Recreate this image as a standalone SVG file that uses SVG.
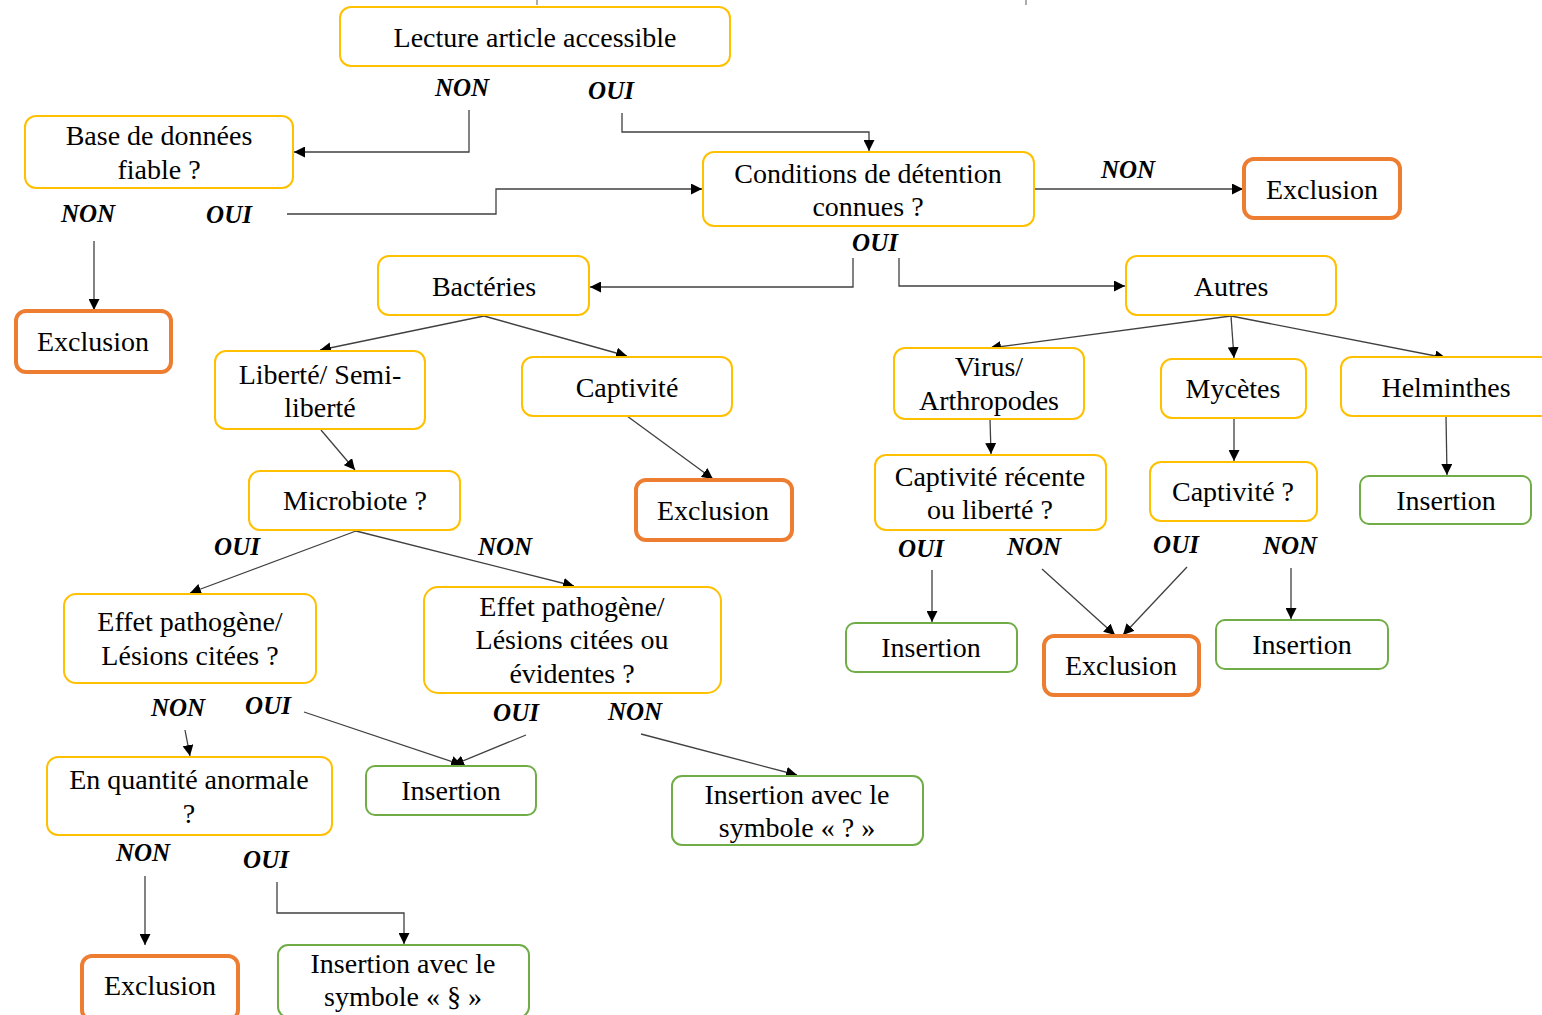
<svg xmlns="http://www.w3.org/2000/svg" width="1542" height="1015" viewBox="0 0 1542 1015">
<defs>
<marker id="ah" viewBox="0 0 10 10" refX="10" refY="5" markerWidth="11" markerHeight="11" markerUnits="userSpaceOnUse" orient="auto">
<path d="M0,0 L10,5 L0,10 Z" fill="#000"/>
</marker>
<style>
.y{fill:#fff;stroke:#FFC000;stroke-width:2}
.o{fill:#fff;stroke:#ED7D31;stroke-width:4}
.g{fill:#fff;stroke:#70AD47;stroke-width:2}
.t{font-family:"Liberation Serif","Times New Roman",serif;font-size:28px;fill:#000;text-anchor:middle}
.l{font-family:"Liberation Serif","Times New Roman",serif;font-size:25px;font-weight:bold;font-style:italic;fill:#000;text-anchor:middle}
.c{fill:none;stroke:#404040;stroke-width:1.3;marker-end:url(#ah)}
.m{fill:none;stroke:#808080;stroke-width:1.3}
</style>
</defs>
<rect width="1542" height="1015" fill="#fff"/>
<g id="connectors">
<line class="m" x1="537" y1="0" x2="537" y2="5"/>
<line class="m" x1="1026" y1="0" x2="1026" y2="5"/>
<polyline class="c" points="469,110 469,152 294,152"/>
<polyline class="c" points="622,113 622,132 869,132 869,151"/>
<polyline class="c" points="287,214 496,214 496,189 702,189"/>
<polyline class="c" points="94,241 94,310"/>
<polyline class="c" points="1034,189 1243,189"/>
<polyline class="c" points="853,258 853,287 590,287"/>
<polyline class="c" points="899,258 899,286 1125,286"/>
<polyline class="c" points="484,316 320,350"/>
<polyline class="c" points="484,316 627,356"/>
<polyline class="c" points="321,430 355,470"/>
<polyline class="c" points="627,416 713,479"/>
<polyline class="c" points="356,531 190,593"/>
<polyline class="c" points="356,531 574,586"/>
<polyline class="c" points="304,712 462,765"/>
<polyline class="c" points="526,735 453,765"/>
<polyline class="c" points="185,730 190,756"/>
<polyline class="c" points="641,734 797,775"/>
<polyline class="c" points="145,876 145,945"/>
<polyline class="c" points="277,882 277,913 404,913 404,944"/>
<polyline class="c" points="1231,316 990,348"/>
<polyline class="c" points="1231,316 1234,358"/>
<polyline class="c" points="1231,316 1446,358"/>
<polyline class="c" points="990,419 991,454"/>
<polyline class="c" points="1234,418 1234,461"/>
<polyline class="c" points="1446,416 1447,475"/>
<polyline class="c" points="932,570 932,622"/>
<polyline class="c" points="1042,569 1115,635"/>
<polyline class="c" points="1187,567 1123,635"/>
<polyline class="c" points="1291,568 1291,619"/>
</g>
<g id="labels">
<text class="l" x="462" y="96">NON</text>
<text class="l" x="611" y="99">OUI</text>
<text class="l" x="88" y="222">NON</text>
<text class="l" x="229" y="223">OUI</text>
<text class="l" x="1128" y="178">NON</text>
<text class="l" x="875" y="251">OUI</text>
<text class="l" x="237" y="555">OUI</text>
<text class="l" x="505" y="555">NON</text>
<text class="l" x="178" y="716">NON</text>
<text class="l" x="268" y="714">OUI</text>
<text class="l" x="516" y="721">OUI</text>
<text class="l" x="635" y="720">NON</text>
<text class="l" x="143" y="861">NON</text>
<text class="l" x="266" y="868">OUI</text>
<text class="l" x="921" y="557">OUI</text>
<text class="l" x="1034" y="555">NON</text>
<text class="l" x="1176" y="553">OUI</text>
<text class="l" x="1290" y="554">NON</text>
</g>
<g id="n1"><rect class="y" x="340" y="7" width="390" height="59" rx="11"/><text class="t" x="535" y="47">Lecture article accessible</text></g>
<g id="n2"><rect class="y" x="25" y="116" width="268" height="72" rx="11"/><text class="t" x="159" y="145">Base de données</text><text class="t" x="159" y="179">fiable ?</text></g>
<g id="n3"><rect class="y" x="703" y="152" width="331" height="74" rx="11"/><text class="t" x="868" y="183">Conditions de détention</text><text class="t" x="868" y="216">connues ?</text></g>
<g id="n4"><rect class="o" x="1244" y="159" width="156" height="59" rx="10"/><text class="t" x="1322" y="199">Exclusion</text></g>
<g id="n5"><rect class="o" x="16" y="311" width="155" height="61" rx="10"/><text class="t" x="93" y="351">Exclusion</text></g>
<g id="n6"><rect class="y" x="378" y="256" width="211" height="59" rx="11"/><text class="t" x="484" y="296">Bactéries</text></g>
<g id="n7"><rect class="y" x="1126" y="256" width="210" height="59" rx="11"/><text class="t" x="1231" y="296">Autres</text></g>
<g id="n8"><rect class="y" x="215" y="351" width="210" height="78" rx="11"/><text class="t" x="320" y="384">Liberté/ Semi-</text><text class="t" x="320" y="417">liberté</text></g>
<g id="n9"><rect class="y" x="522" y="357" width="210" height="59" rx="11"/><text class="t" x="627" y="397">Captivité</text></g>
<g id="n10"><rect class="y" x="249" y="471" width="211" height="59" rx="11"/><text class="t" x="355" y="510">Microbiote ?</text></g>
<g id="n11"><rect class="o" x="636" y="480" width="156" height="60" rx="10"/><text class="t" x="713" y="520">Exclusion</text></g>
<g id="n12"><rect class="y" x="894" y="348" width="190" height="71" rx="11"/><text class="t" x="989" y="376">Virus/</text><text class="t" x="989" y="410">Arthropodes</text></g>
<g id="n13"><rect class="y" x="1161" y="359" width="145" height="59" rx="11"/><text class="t" x="1233" y="398">Mycètes</text></g>
<g id="n14"><rect class="y" x="1341" y="357" width="212" height="59" rx="11"/><text class="t" x="1446" y="397">Helminthes</text></g>
<g id="n15"><rect class="y" x="875" y="455" width="231" height="75" rx="11"/><text class="t" x="990" y="486">Captivité récente</text><text class="t" x="990" y="519">ou liberté ?</text></g>
<g id="n16"><rect class="y" x="1150" y="462" width="167" height="59" rx="11"/><text class="t" x="1233" y="501">Captivité ?</text></g>
<g id="n17"><rect class="g" x="1360" y="476" width="171" height="48" rx="9"/><text class="t" x="1446" y="510">Insertion</text></g>
<g id="n18"><rect class="g" x="846" y="623" width="171" height="49" rx="9"/><text class="t" x="931" y="657">Insertion</text></g>
<g id="n19"><rect class="o" x="1044" y="636" width="155" height="59" rx="10"/><text class="t" x="1121" y="675">Exclusion</text></g>
<g id="n20"><rect class="g" x="1216" y="620" width="172" height="49" rx="9"/><text class="t" x="1302" y="654">Insertion</text></g>
<g id="n21"><rect class="y" x="64" y="594" width="252" height="89" rx="12"/><text class="t" x="190" y="631">Effet pathogène/</text><text class="t" x="190" y="665">Lésions citées ?</text></g>
<g id="n22"><rect class="y" x="424" y="587" width="297" height="106" rx="14"/><text class="t" x="572" y="616">Effet pathogène/</text><text class="t" x="572" y="649">Lésions citées ou</text><text class="t" x="572" y="683">évidentes ?</text></g>
<g id="n23"><rect class="y" x="47" y="757" width="285" height="78" rx="11"/><text class="t" x="189" y="789">En quantité anormale</text><text class="t" x="189" y="823">?</text></g>
<g id="n24"><rect class="g" x="366" y="766" width="170" height="49" rx="9"/><text class="t" x="451" y="800">Insertion</text></g>
<g id="n25"><rect class="g" x="672" y="776" width="251" height="69" rx="10"/><text class="t" x="797" y="804">Insertion avec le</text><text class="t" x="797" y="837">symbole « ? »</text></g>
<g id="n26"><rect class="o" x="82" y="956" width="156" height="64" rx="10"/><text class="t" x="160" y="995">Exclusion</text></g>
<g id="n27"><rect class="g" x="278" y="945" width="251" height="72" rx="10"/><text class="t" x="403" y="973">Insertion avec le</text><text class="t" x="403" y="1006">symbole « § »</text></g>
</svg>
